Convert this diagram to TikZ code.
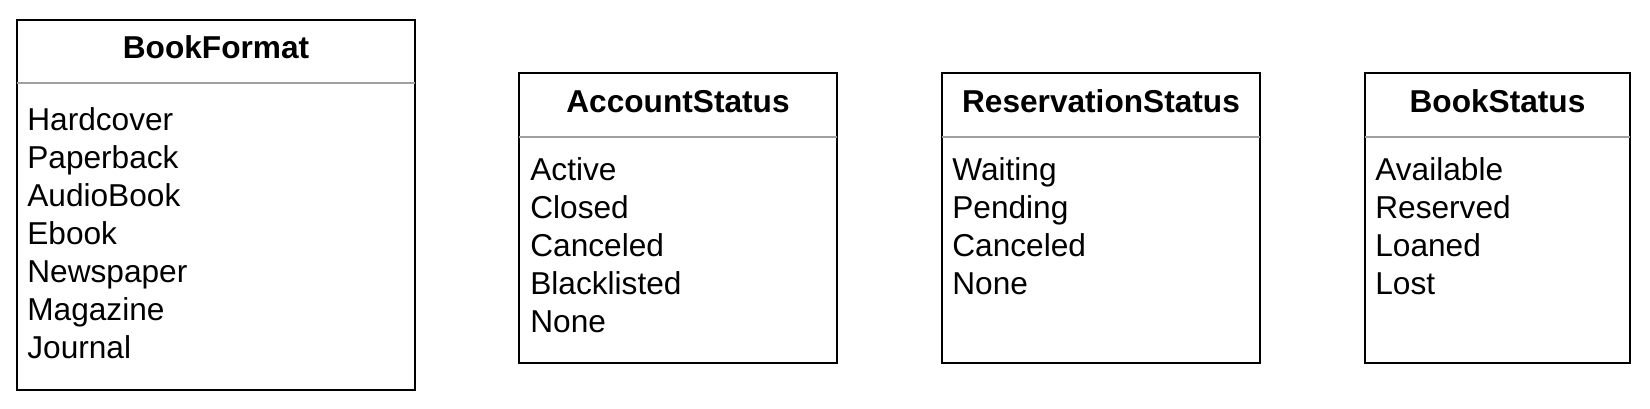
\documentclass[tikz,border=0pt]{standalone}
\usepackage{fontspec}
\setmainfont{Liberation Sans}
\usepackage{tikz}
\usetikzlibrary{positioning}
\definecolor{sepgray}{RGB}{160,160,160}

\begin{document}
\begin{tikzpicture}[scale=0.2]
\tikzstyle{every node}+=[inner sep=0pt,font=\fontsize{18pt}{21.6pt}\selectfont]
\tikzstyle{frame}=[black,line width=1.3pt]
\tikzstyle{sepline}=[sepgray,line width=1.1pt]
\tikzstyle{title}=[anchor=base,font=\fontsize{18pt}{21.6pt}\selectfont\bfseries]
\tikzstyle{item}=[anchor=base west]
\useasboundingbox (0,0) rectangle (165,-40.9);
% BookFormat
\draw [frame] (1.7,-2) rectangle (41.5,-39);
\draw [sepline] (1.7,-8.3) -- (41.5,-8.3);
\node [title] (bookformat) at (21.6,-5.8) {BookFormat};
\node [item] (hardcover) at (2.7,-13) {Hardcover};
\node [item] (paperback) at (2.7,-16.8) {Paperback};
\node [item] (audiobook) at (2.7,-20.6) {AudioBook};
\node [item] (ebook) at (2.7,-24.4) {Ebook};
\node [item] (newspaper) at (2.7,-28.2) {Newspaper};
\node [item] (magazine) at (2.7,-32) {Magazine};
\node [item] (journal) at (2.7,-35.8) {Journal};
% AccountStatus
\draw [frame] (51.9,-7.3) rectangle (83.7,-36.3);
\draw [sepline] (51.9,-13.7) -- (83.7,-13.7);
\node [title] (accountstatus) at (67.8,-11.2) {AccountStatus};
\node [item] (active) at (53,-18) {Active};
\node [item] (closed) at (53,-21.8) {Closed};
\node [item] (acanceled) at (53,-25.6) {Canceled};
\node [item] (blacklisted) at (53,-29.4) {Blacklisted};
\node [item] (anone) at (53,-33.2) {None};
% ReservationStatus
\draw [frame] (94.2,-7.3) rectangle (126,-36.3);
\draw [sepline] (94.2,-13.7) -- (126,-13.7);
\node [title] (reservationstatus) at (110.1,-11.2) {ReservationStatus};
\node [item] (waiting) at (95.2,-18) {Waiting};
\node [item] (pending) at (95.2,-21.8) {Pending};
\node [item] (rcanceled) at (95.2,-25.6) {Canceled};
\node [item] (rnone) at (95.2,-29.4) {None};
% BookStatus
\draw [frame] (136.5,-7.3) rectangle (163,-36.3);
\draw [sepline] (136.5,-13.7) -- (163,-13.7);
\node [title] (bookstatus) at (149.75,-11.2) {BookStatus};
\node [item] (available) at (137.5,-18) {Available};
\node [item] (reserved) at (137.5,-21.8) {Reserved};
\node [item] (loaned) at (137.5,-25.6) {Loaned};
\node [item] (lost) at (137.5,-29.4) {Lost};
\end{tikzpicture}
\end{document}
